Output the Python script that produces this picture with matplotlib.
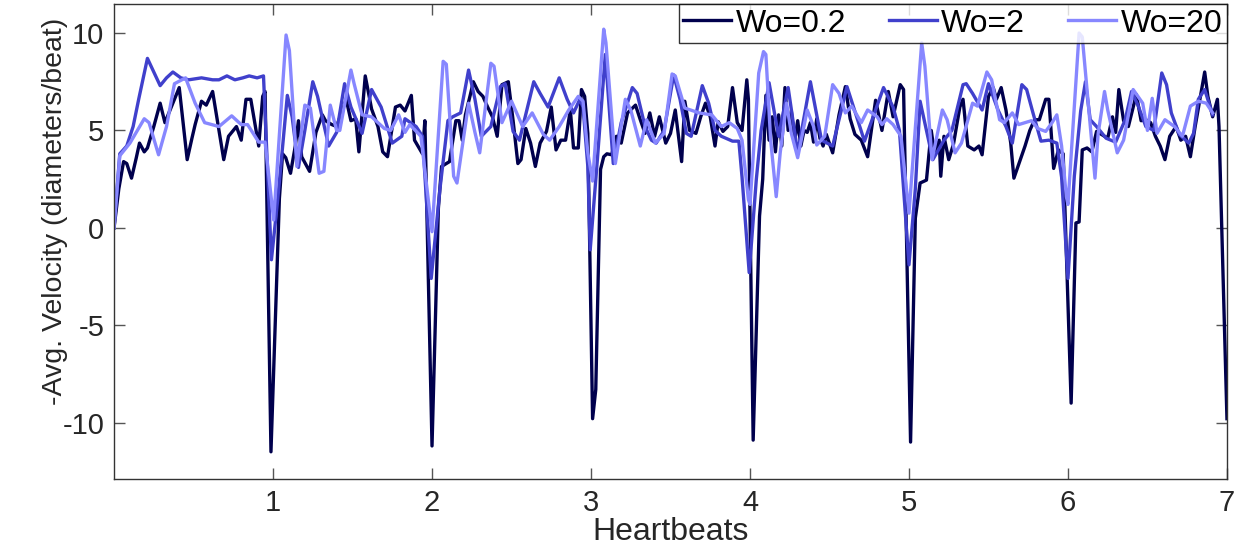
import numpy as np
import matplotlib
matplotlib.use('Agg')
import matplotlib.pyplot as plt

# Wo=0.2
x_a = [0.00, 0.03, 0.06, 0.08, 0.11, 0.14, 0.16, 0.19, 0.21, 0.25, 0.29, 0.32, 0.36, 0.41, 0.46, 0.49,
       0.51, 0.55, 0.58, 0.62, 0.66, 0.69, 0.72, 0.77, 0.80, 0.83, 0.86, 0.91, 0.935, 0.95, 0.987,
       1.04, 1.06, 1.08, 1.11, 1.14, 1.16, 1.18, 1.21, 1.23, 1.27, 1.31, 1.33, 1.37, 1.40, 1.43, 1.46,
       1.49, 1.52, 1.54, 1.58, 1.62, 1.66, 1.69, 1.72, 1.77, 1.80, 1.83, 1.87, 1.89, 1.94, 1.955, 2.00,
       2.04, 2.06, 2.09, 2.11, 2.15, 2.17, 2.19, 2.21, 2.24, 2.26, 2.29, 2.32, 2.35, 2.38, 2.41, 2.44,
       2.48, 2.51, 2.54, 2.56, 2.59, 2.62, 2.65, 2.68, 2.72, 2.75, 2.78, 2.81, 2.84, 2.87, 2.89, 2.92,
       2.94, 2.96, 2.98, 3.01, 3.03, 3.06, 3.08, 3.10, 3.13, 3.16, 3.19, 3.23, 3.28, 3.31, 3.34, 3.37,
       3.40, 3.43, 3.47, 3.50, 3.53, 3.57, 3.59, 3.62, 3.66, 3.69, 3.72, 3.75, 3.78, 3.80, 3.83, 3.86,
       3.89, 3.92, 3.95, 3.98, 3.99, 4.02, 4.06, 4.08, 4.10, 4.12, 4.14, 4.16, 4.18, 4.20, 4.22, 4.24,
       4.26, 4.28, 4.30, 4.32, 4.34, 4.36, 4.38, 4.40, 4.42, 4.44, 4.46, 4.48, 4.52, 4.56, 4.60, 4.63,
       4.66, 4.70, 4.74, 4.79, 4.83, 4.87, 4.90, 4.945, 4.966, 5.01, 5.04, 5.07, 5.11, 5.14, 5.16, 5.19,
       5.20, 5.22, 5.25, 5.28, 5.32, 5.34, 5.37, 5.41, 5.44, 5.46, 5.50, 5.53, 5.55, 5.58, 5.61, 5.64,
       5.66, 5.70, 5.73, 5.76, 5.79, 5.82, 5.86, 5.88, 5.91, 5.94, 5.97, 6.02, 6.05, 6.07, 6.09, 6.12,
       6.15, 6.18, 6.21, 6.25, 6.28, 6.30, 6.32, 6.35, 6.38, 6.41, 6.43, 6.46, 6.49, 6.52, 6.55, 6.58,
       6.61, 6.64, 6.68, 6.71, 6.74, 6.77, 6.80, 6.83, 6.86, 6.88, 6.91, 6.94, 6.95, 7.00]
y_a = [0.0, 2.0, 3.4, 3.3, 2.55, 3.6, 4.35, 3.9, 4.1, 5.2, 6.4, 5.4, 6.2, 7.2, 3.5, 4.6,
       5.3, 6.5, 6.3, 7.0, 5.0, 3.5, 4.7, 5.2, 4.5, 6.6, 6.6, 4.2, 6.75, 7.0, -11.5,
       1.5, 3.8, 3.6, 2.8, 4.2, 5.5, 3.65, 3.2, 2.9, 4.9, 5.8, 5.5, 5.3, 5.2, 5.9, 6.6,
       5.5, 5.6, 3.9, 7.8, 6.1, 5.2, 3.9, 3.65, 6.2, 6.3, 6.0, 6.8, 4.5, 3.8, 5.5, -11.2,
       1.0, 3.15, 3.3, 3.4, 5.5, 5.5, 4.5, 5.8, 6.8, 7.5, 7.0, 6.75, 6.2, 5.7, 4.7, 7.35,
       7.5, 5.5, 3.3, 3.5, 5.1, 4.35, 3.15, 4.35, 4.95, 6.2, 4.0, 4.5, 4.5, 6.05, 4.1, 4.1,
       7.1, 6.75, 4.85, -9.8, -8.3, 3.0, 3.65, 3.8, 3.75, 4.7, 4.35, 5.9, 6.3, 5.55, 4.85, 5.9,
       4.7, 5.7, 4.35, 4.85, 6.05, 3.4, 6.5, 5.0, 4.85, 5.7, 6.4, 5.7, 4.2, 5.45, 4.95, 5.2,
       7.2, 5.4, 5.0, 7.6, 6.6, -10.9, 0.6, 2.5, 6.8, 4.5, 5.7, 3.9, 5.8, 4.2, 7.2, 5.0,
       6.0, 4.4, 5.5, 4.2, 5.0, 4.9, 5.4, 4.4, 5.6, 4.6, 4.2, 4.8, 3.85, 5.8, 7.25, 5.6,
       4.8, 4.5, 3.65, 6.55, 5.0, 7.0, 5.7, 7.35, 7.1, -11.0, 0.5, 2.3, 2.45, 5.0, 3.85, 4.5,
       2.65, 4.7, 3.5, 4.3, 6.2, 6.6, 4.2, 4.0, 4.2, 3.75, 6.75, 7.2, 6.6, 7.2, 6.05, 4.35,
       2.55, 3.5, 4.2, 5.0, 5.55, 5.55, 6.6, 6.6, 3.05, 4.0, 3.8, -9.0, 0.25, 0.3, 4.0, 4.1,
       3.9, 4.95, 4.8, 4.6, 5.7, 4.9, 7.1, 5.5, 5.2, 6.2, 6.85, 5.5, 5.55, 5.4, 4.7, 4.2,
       3.5, 4.7, 5.2, 4.5, 4.7, 3.65, 5.2, 6.6, 8.0, 6.75, 5.7, 6.6, 5.2, -9.8]

# Wo=2
x_b = [0.00, 0.036, 0.08, 0.12, 0.155, 0.21, 0.25, 0.29, 0.33, 0.37, 0.42, 0.47, 0.55, 0.62, 0.66, 0.71,
       0.76, 0.81, 0.85, 0.90, 0.94, 0.99, 1.03, 1.09, 1.12, 1.16, 1.20, 1.25, 1.28, 1.35, 1.40, 1.45,
       1.49, 1.56, 1.62, 1.68, 1.75, 1.81, 1.83, 1.90, 1.94, 1.995, 2.05, 2.10, 2.13, 2.18, 2.23, 2.27,
       2.31, 2.37, 2.43, 2.46, 2.51, 2.55, 2.64, 2.68, 2.73, 2.80, 2.85, 2.89, 2.93, 2.95, 2.98, 2.995,
       3.04, 3.09, 3.14, 3.19, 3.26, 3.29, 3.34, 3.38, 3.41, 3.46, 3.52, 3.56, 3.60, 3.63, 3.70, 3.74,
       3.78, 3.82, 3.89, 3.93, 3.95, 3.995, 4.04, 4.07, 4.12, 4.18, 4.24, 4.30, 4.38, 4.45, 4.52, 4.61,
       4.72, 4.84, 4.90, 4.94, 5.00, 5.04, 5.07, 5.15, 5.22, 5.27, 5.34, 5.36, 5.40, 5.46, 5.50, 5.56,
       5.61, 5.65, 5.71, 5.74, 5.78, 5.83, 5.88, 5.93, 5.96, 6.00, 6.04, 6.08, 6.11, 6.14, 6.18, 6.24,
       6.30, 6.36, 6.40, 6.44, 6.49, 6.54, 6.59, 6.62, 6.65, 6.70, 6.76, 6.79, 6.82, 6.86, 6.91]
y_b = [0.0, 3.8, 4.2, 5.2, 6.6, 8.7, 8.0, 7.3, 7.7, 8.0, 7.7, 7.6, 7.7, 7.6, 7.6, 7.8,
       7.6, 7.7, 7.8, 7.7, 7.8, -1.64, 1.5, 6.8, 5.7, 3.1, 5.0, 7.5, 6.75, 4.2, 4.9, 7.4,
       6.2, 4.85, 7.1, 6.2, 4.35, 4.7, 5.6, 5.2, 4.7, -2.6, 2.0, 5.5, 5.7, 5.9, 8.1, 6.6,
       4.7, 5.2, 7.25, 7.4, 4.95, 4.5, 7.5, 6.9, 6.2, 7.7, 6.6, 5.9, 6.6, 6.2, 3.15, -1.13,
       3.5, 8.9, 3.3, 5.4, 7.2, 6.9, 5.2, 4.5, 4.35, 5.0, 7.85, 6.6, 4.85, 4.7, 7.3, 6.4,
       5.0, 4.7, 4.45, 4.45, 2.6, -2.3, 2.5, 5.0, 7.45, 4.7, 7.2, 3.85, 7.5, 4.5, 4.2, 7.25,
       4.45, 7.2, 6.2, 5.0, -1.9, 2.0, 6.5, 3.5, 4.5, 5.0, 7.35, 7.4, 6.9, 6.05, 7.4, 6.05,
       5.2, 4.35, 7.35, 7.1, 5.9, 4.45, 4.5, 4.35, 2.6, -2.6, 2.65, 6.0, 7.5, 5.55, 5.2, 4.6,
       4.4, 5.55, 7.0, 6.3, 5.2, 5.0, 7.95, 7.35, 5.9, 4.8, 4.35, 4.85, 6.6, 7.1, 5.8]

# Wo=20
x_c = [0.00, 0.036, 0.10, 0.19, 0.22, 0.28, 0.33, 0.38, 0.45, 0.51, 0.57, 0.66, 0.74, 0.80, 0.84, 0.91,
       0.95, 1.004, 1.082, 1.103, 1.15, 1.20, 1.235, 1.29, 1.32, 1.36, 1.40, 1.42, 1.49, 1.51, 1.56, 1.62,
       1.70, 1.74, 1.79, 1.83, 1.86, 1.93, 2.00, 2.07, 2.09, 2.136, 2.157, 2.23, 2.27, 2.30, 2.37, 2.39,
       2.44, 2.50, 2.57, 2.63, 2.70, 2.74, 2.80, 2.86, 2.92, 2.95, 2.98, 3.01, 3.08, 3.094, 3.153, 3.216,
       3.25, 3.31, 3.35, 3.405, 3.46, 3.51, 3.53, 3.59, 3.68, 3.76, 3.82, 3.87, 3.92, 3.95, 3.99, 4.00,
       4.055, 4.085, 4.10, 4.13, 4.165, 4.19, 4.23, 4.26, 4.30, 4.36, 4.40, 4.42, 4.47, 4.52, 4.56, 4.60,
       4.64, 4.70, 4.74, 4.80, 4.83, 4.86, 4.90, 4.95, 5.00, 5.08, 5.10, 5.145, 5.21, 5.24, 5.29, 5.33,
       5.40, 5.43, 5.49, 5.52, 5.57, 5.60, 5.65, 5.69, 5.73, 5.77, 5.81, 5.86, 5.90, 5.93, 5.96, 5.99,
       6.00, 6.07, 6.09, 6.17, 6.19, 6.23, 6.25, 6.31, 6.35, 6.41, 6.47, 6.50, 6.53, 6.56, 6.61, 6.67,
       6.72, 6.77, 6.82, 6.87, 6.91]
y_c = [0.0, 3.7, 4.35, 5.6, 5.4, 3.75, 5.2, 7.4, 7.7, 6.4, 5.4, 5.2, 5.75, 5.3, 5.3, 4.4,
       4.4, 0.4, 9.9, 9.1, 3.15, 6.3, 6.15, 2.8, 2.9, 6.3, 5.0, 5.0, 8.1, 7.4, 5.8, 5.7,
       5.1, 5.0, 5.8, 4.9, 5.3, 4.7, -0.2, 8.55, 8.4, 2.65, 2.3, 6.4, 4.9, 3.85, 8.45, 8.3,
       5.4, 6.5, 5.2, 5.9, 4.8, 4.5, 5.2, 6.05, 6.75, 6.5, 3.85, 2.4, 10.2, 9.5, 3.3, 6.6,
       6.05, 4.2, 5.55, 4.35, 4.85, 7.9, 7.8, 6.15, 5.9, 5.8, 5.2, 5.4, 5.1, 4.5, 1.45, 1.2,
       7.95, 9.05, 8.9, 4.5, 1.6, 3.85, 6.4, 4.85, 3.6, 6.05, 5.2, 4.25, 4.7, 7.35, 6.9, 5.9,
       6.25, 5.4, 6.05, 5.7, 5.3, 5.6, 5.3, 4.7, 0.75, 9.5, 8.3, 3.5, 6.05, 5.55, 3.85, 4.35,
       6.4, 6.25, 8.0, 7.6, 5.55, 5.4, 5.9, 5.3, 5.4, 5.5, 5.1, 4.95, 5.4, 5.8, 4.2, 1.6,
       1.2, 10.0, 9.8, 2.55, 4.85, 7.0, 6.05, 3.85, 4.5, 7.1, 6.4, 5.0, 6.65, 4.85, 5.55, 5.2,
       4.7, 6.25, 6.5, 6.4, 5.9]

labels = ['Wo=0.2', 'Wo=2', 'Wo=20']
colors = [(0.0, 0.0, 0.3), (0.25, 0.25, 0.8), (0.53, 0.53, 1.0)]
x_ticks = [1, 2, 3, 4, 5, 6, 7]
y_ticks = [-10, -5, 0, 5, 10]

plt.rcParams['font.family'] = ['Liberation Sans', 'DejaVu Sans']
plt.rcParams['axes.unicode_minus'] = False

fig = plt.figure(figsize=(12.45, 5.5), dpi=100)
ax = fig.add_axes([0.0916, 0.129, 0.8939, 0.864])

for xs, ys, lab, c in zip([x_a, x_b, x_c], [y_a, y_b, y_c], labels, colors):
    ax.plot(xs, ys, color=c, lw=2.4, label=lab)

ax.set_xlim(0, 7)
ax.set_ylim(-12.9, 11.5)
ax.set_xticks(x_ticks)
ax.set_yticks(y_ticks)
ax.tick_params(direction='in', top=True, right=True, length=8, width=1,
               color='#555555', labelsize=21, labelcolor='#262626', pad=7)
for s in ax.spines.values():
    s.set_color('#333333')
    s.set_linewidth(1)

ax.set_xlabel('Heartbeats', fontsize=23, color='#262626', labelpad=0)
ax.set_ylabel('-Avg. Velocity (diameters/beat)', fontsize=20.5, color='#262626')
ax.yaxis.set_label_coords(-0.041, 0.564)

leg = ax.legend(loc='upper right', ncol=3, fontsize=23, frameon=True, fancybox=False,
                borderaxespad=0, handlelength=1.5, handletextpad=0.13, columnspacing=1.35,
                borderpad=0.15)
leg.get_frame().set_edgecolor('black')
leg.get_frame().set_linewidth(1)

fig.savefig('out.png', dpi=100)
